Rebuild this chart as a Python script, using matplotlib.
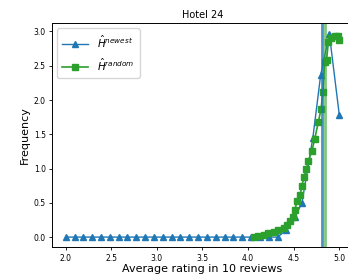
import numpy as np
import matplotlib
matplotlib.use("Agg")
import matplotlib.pyplot as plt

# newest-review estimate
x_newest = [2.0, 2.097, 2.194, 2.29, 2.387, 2.484, 2.581, 2.677, 2.774, 2.871,
            2.968, 3.065, 3.161, 3.258, 3.355, 3.452, 3.548, 3.645, 3.742,
            3.839, 3.935, 4.032, 4.129, 4.226, 4.323, 4.419, 4.516, 4.59,
            4.71, 4.795, 4.89, 5.0]
y_newest = [0, 0, 0, 0, 0, 0, 0, 0, 0, 0,
            0, 0, 0, 0, 0, 0, 0, 0, 0,
            0, 0, 0, 0, 0, 0, 0.1, 0.3, 0.5,
            1.45, 2.36, 2.97, 1.78]

# random-review estimate
x_random = [4.06, 4.11, 4.17, 4.22, 4.28, 4.33, 4.39, 4.43, 4.46, 4.49, 4.51,
            4.54, 4.57, 4.59, 4.61, 4.64, 4.66, 4.70, 4.73, 4.77, 4.80, 4.82,
            4.84, 4.86, 4.88, 4.91, 4.95, 4.99, 5.0]
y_random = [0.0, 0.02, 0.03, 0.06, 0.08, 0.11, 0.13, 0.17, 0.23, 0.30, 0.40,
            0.52, 0.62, 0.74, 0.87, 0.99, 1.11, 1.26, 1.43, 1.68, 1.87, 2.12,
            2.55, 2.58, 2.85, 2.90, 2.93, 2.93, 2.88]

mean_newest = 4.81
mean_random = 4.84

fig = plt.figure(figsize=(3.48, 2.79), dpi=100)
ax = fig.add_axes([52 / 348, 0.1136, (353 - 52) / 348, 0.803])

ax.plot(x_newest, y_newest, "^-", color="tab:blue", lw=1, ms=4,
        label=r"$\hat{H}^{newest}$")
ax.plot(x_random, y_random, "s-", color="tab:green", lw=1.2, ms=4.5,
        label=r"$\hat{H}^{random}$")
ax.axvline(mean_newest, color="tab:blue", lw=2, alpha=0.8)
ax.axvline(mean_random, color="tab:green", lw=2, alpha=0.6)

ax.set_xlim(1.85, 5.15)
ax.set_ylim(-0.149, 3.12)
ax.set_xticks([2.0, 2.5, 3.0, 3.5, 4.0, 4.5, 5.0])
ax.set_yticks([0.0, 0.5, 1.0, 1.5, 2.0, 2.5, 3.0])
ax.tick_params(labelsize=5.5, length=2.5, width=0.6, pad=2)
for s in ax.spines.values():
    s.set_linewidth(0.7)

ax.set_title("Hotel 24", fontsize=7, pad=4)
ax.set_xlabel("Average rating in 10 reviews", fontsize=8, labelpad=1)
ax.set_ylabel("Frequency", fontsize=8, labelpad=3)
ax.legend(loc="upper left", fontsize=7.5, handlelength=2.5, borderpad=0.5,
          labelspacing=0.6, handletextpad=0.8)

fig.savefig("out.png", dpi=100)
